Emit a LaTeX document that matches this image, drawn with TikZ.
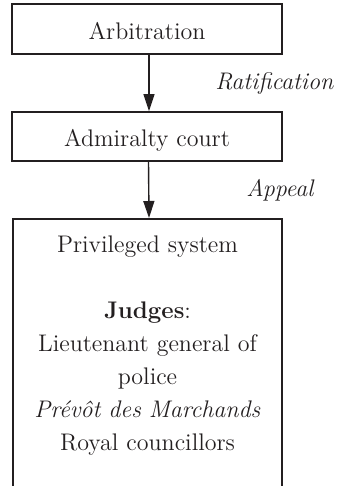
\documentclass[tikz,border=0pt]{standalone}
\usetikzlibrary{arrows.meta}
\definecolor{ink}{HTML}{231F20}
\begin{document}
\begin{tikzpicture}[x=0.5pt,y=-0.5pt,
  font=\fontsize{12}{16.5}\selectfont,
  every node/.style={text=ink},
  box/.style={draw=ink, line width=0.9pt, inner sep=0, minimum width=135pt, text height=10.5pt, text depth=0pt},
  arr/.style={draw=ink, line width=0.7pt, -{Triangle[length=8.5pt,width=5.5pt]}},
  lbl/.style={font=\fontsize{12}{16.5}\selectfont\itshape, inner sep=0, anchor=base west}]
\useasboundingbox (0,0) rectangle (343,486);
\node[box, minimum height=25pt] (arb) at (147,29) {Arbitration};
\node[box, minimum height=24.5pt] (adm) at (147,136.5) {Admiralty court};
\begin{scope}
\clip (0,0) rectangle (343,486);
\node[box, minimum width=134.5pt, minimum height=150pt, anchor=north] (sys) at (147.5,218) {};
\end{scope}
\node[anchor=base, text width=130pt, align=center, inner sep=0] (systext) at (147.5,252)
  {Privileged system\\[16.5pt]\textbf{Judges}:\\Lieutenant general of\\police\\\textit{Prévôt des Marchands}\\Royal councillors};
\draw[arr] ([xshift=1pt]arb.south) -- ([xshift=1pt]adm.north);
\draw[arr] ([xshift=0.75pt]adm.south) -- ([xshift=0.75pt]sys.north);
\node[lbl] (rat) at (215,90) {Ratification};
\node[lbl] (app) at (246,197) {Appeal};
\end{tikzpicture}
\end{document}
